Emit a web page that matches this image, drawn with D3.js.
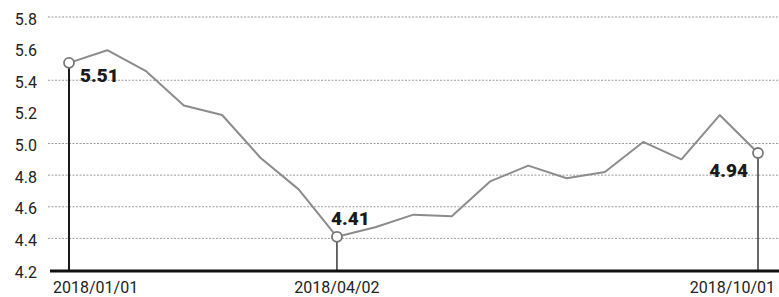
<!DOCTYPE html>
<html>
<head>
<meta charset="utf-8">
<script src="https://cdn.jsdelivr.net/npm/d3@7"></script>
<style>
  body { margin: 0; background: #fff; }
  text { font-family: Roboto, sans-serif; }
</style>
</head>
<body>
<script>
// series values, one per step
const values = [5.51, 5.59, 5.46, 5.24, 5.18, 4.91, 4.71, 4.41, 4.47, 4.55, 4.54,
                4.76, 4.86, 4.78, 4.82, 5.01, 4.90, 5.18, 4.94];
const yTicks = [4.2, 4.4, 4.6, 4.8, 5.0, 5.2, 5.4, 5.6, 5.8];
const gridTicks = [4.4, 4.6, 4.8, 5.0, 5.4, 5.8];
const markIdx = [0, 7, 18];
const markDates = ["2018/01/01", "2018/04/02", "2018/10/01"];

const width = 779, height = 297;
const svg = d3.select("body").append("svg")
    .attr("width", width)
    .attr("height", height);

const x = d3.scaleLinear()
    .domain([0, values.length - 1])
    .range([69, 758]);
const y = d3.scaleLinear()
    .domain([4.2, 5.8])
    .range([270, 17]);

// dotted grid
svg.append("g")
    .selectAll("line")
    .data(gridTicks)
    .join("line")
    .attr("x1", 48)
    .attr("x2", width)
    .attr("y1", d => y(d))
    .attr("y2", d => y(d))
    .attr("stroke", "#9a9a9a")
    .attr("stroke-width", 1)
    .attr("stroke-dasharray", "2,1.5");

// y labels
svg.append("g")
    .selectAll("text")
    .data(yTicks)
    .join("text")
    .attr("x", 37)
    .attr("y", d => y(d) + 2)
    .attr("text-anchor", "end")
    .attr("dominant-baseline", "central")
    .style("font-size", "16px")
    .attr("fill", "#222")
    .text(d => d.toFixed(1));

// drop lines from marked points
svg.append("g")
    .selectAll("line")
    .data(markIdx)
    .join("line")
    .attr("x1", d => x(d))
    .attr("x2", d => x(d))
    .attr("y1", d => y(values[d]))
    .attr("y2", y(4.2))
    .attr("stroke", "#1a1a1a")
    .attr("stroke-width", (d, i) => i == 0 ? 2 : 1.3);

// bottom axis line
svg.append("line")
    .attr("x1", 50)
    .attr("x2", width)
    .attr("y1", y(4.2) + 1)
    .attr("y2", y(4.2) + 1)
    .attr("stroke", "#111")
    .attr("stroke-width", 3);

// the series
let line = d3.line()
    .x((d, i) => x(i))
    .y(d => y(d));
svg.append("path")
    .datum(values)
    .attr("d", line)
    .attr("fill", "none")
    .attr("stroke", "#8c8c8c")
    .attr("stroke-width", 2)
    .attr("stroke-linejoin", "round");

svg.append("g")
    .selectAll("circle")
    .data(markIdx)
    .join("circle")
    .attr("cx", d => x(d))
    .attr("cy", d => y(values[d]))
    .attr("r", 5)
    .attr("fill", "#fff")
    .attr("stroke", "#777")
    .attr("stroke-width", 1.8);

// value labels
let lblDx = [11, -6, -10];
let lblDy = [19, -12, 24];
let lblAnchor = ["start", "start", "end"];
svg.append("g")
    .selectAll("text")
    .data(markIdx)
    .join("text")
    .attr("x", (d, i) => x(d) + lblDx[i])
    .attr("y", (d, i) => y(values[d]) + lblDy[i])
    .attr("text-anchor", (d, i) => lblAnchor[i])
    .style("font-weight", 900)
    .style("font-size", "19px")
    .attr("fill", "#1a1a1a")
    .text(d => values[d].toFixed(2));

// date labels
let dateX = [53, x(7), 775];
let dateAnchor = ["start", "middle", "end"];
svg.append("g")
    .selectAll("text")
    .data(markDates)
    .join("text")
    .attr("x", (d, i) => dateX[i])
    .attr("y", 293)
    .attr("text-anchor", (d, i) => dateAnchor[i])
    .style("font-size", "16px")
    .attr("fill", "#222")
    .text(d => d);
</script>
</body>
</html>
